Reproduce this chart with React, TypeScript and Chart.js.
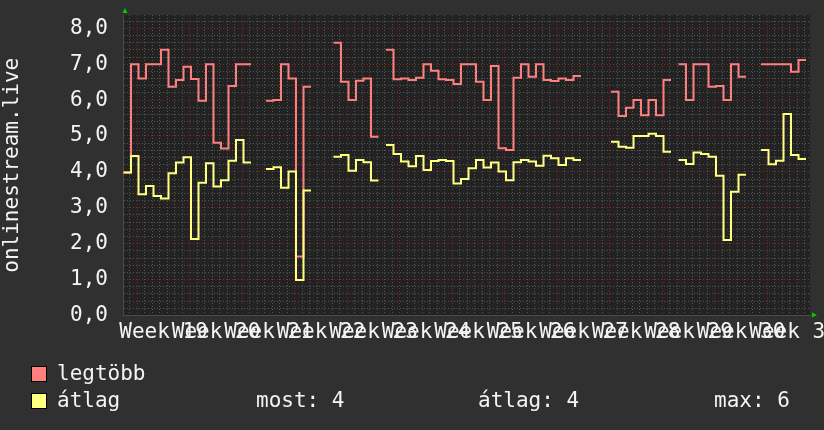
import React, { useEffect, useRef } from 'react';
import { Chart, registerables } from 'chart.js';

Chart.register(...registerables);

// ---- data -------------------------------------------------------------
const weekNumbers = [19, 20, 21, 22, 23, 24, 25, 26, 27, 28, 29, 30, 31];
// first daily sample starts this many days after the start of Week 19
const firstSampleDay = -1.84;
// daily maximum ("legtöbb")
const maxSeries: (number | null)[] = [
  3.98, 7.0, 6.6, 7.0, 7.0, 7.4, 6.37, 6.56, 6.93, 6.59, 5.98, 7.0, 4.81, 4.65, 6.39, 7.0, 7.0,
  null, null,
  5.98, 6.0, 7.0, 6.6, 1.64, 6.37,
  null, null, null,
  7.6, 6.51, 6.0, 6.54, 6.6, 4.98,
  null,
  7.4, 6.58, 6.6, 6.56, 6.62, 7.0, 6.82, 6.58, 6.56, 6.45, 7.0, 7.0, 6.51, 6.0, 6.95, 4.66, 4.61,
  6.62, 7.0, 6.65, 7.0, 6.56, 6.53, 6.6, 6.56, 6.67,
  null, null, null, null,
  6.23, 5.56, 5.79, 6.0, 5.58, 6.0, 5.58, 6.56,
  null,
  7.0, 6.0, 7.0, 7.0, 6.37, 6.39, 6.0, 7.0, 6.65,
  null, null,
  7.0, 7.0, 7.0, 7.0, 6.79, 7.12,
];
// daily average ("átlag")
const avgSeries: (number | null)[] = [
  3.98, 4.44, 3.38, 3.61, 3.33, 3.26, 3.96, 4.26, 4.41, 2.13, 3.7, 4.24, 3.59, 3.77, 4.31, 4.89, 4.26,
  null, null,
  4.08, 4.13, 3.56, 4.01, 0.99, 3.48,
  null, null, null,
  4.42, 4.47, 4.03, 4.33, 4.27, 3.76,
  null,
  4.75, 4.5, 4.29, 4.16, 4.44, 4.05, 4.3, 4.33, 4.3, 3.68, 3.8, 4.1, 4.33, 4.12, 4.26, 4.01, 3.77,
  4.27, 4.33, 4.29, 4.17, 4.45, 4.38, 4.19, 4.38, 4.33,
  null, null, null, null,
  4.84, 4.7, 4.67, 5.0, 5.0, 5.06, 5.0, 4.56,
  null,
  4.33, 4.22, 4.54, 4.5, 4.42, 3.89, 2.1, 3.45, 3.92,
  null, null,
  4.61, 4.21, 4.31, 5.61, 4.47, 4.36,
];
const yTickLabels = ['0,0', '1,0', '2,0', '3,0', '4,0', '5,0', '6,0', '7,0', '8,0'];
const yAxisTitle = 'onlinestream.live';
const seriesNames = ['legtöbb', 'átlag'];
const summaryLabels = ['most:', 'átlag:', 'max:'];
const summaryValues = ['4', '4', '6'];

const X_MIN = -1.907;
const X_MAX = 89.69;
const Y_MAX = 8.37;

// ---- styles -----------------------------------------------------------
const FONT = "'DejaVu Sans Mono', monospace";
const TEXT = '#f4f4f4';
const RED = '#ff7f7f';
const YELLOW = '#ffff80';
const MINOR = 'rgba(95,95,95,0.85)';
const MAJOR = 'rgba(135,40,40,0.9)';

function toStepPoints(values: (number | null)[]) {
  const pts: { x: number; y: number | null }[] = [];
  values.forEach((v, i) => {
    const start = firstSampleDay + i;
    if (v === null) {
      pts.push({ x: start + 0.5, y: null });
    } else {
      pts.push({ x: start, y: v }, { x: start + 1, y: v });
    }
  });
  return pts;
}

const near = (a: number, b: number) => Math.abs(a - b) < 1e-6;

const decorPlugin = {
  id: 'decor',
  beforeDraw(chart: any) {
    const { ctx, chartArea: a } = chart;
    ctx.save();
    ctx.fillStyle = '#222222';
    ctx.fillRect(a.left, a.top, a.right - a.left, a.bottom - a.top);
    ctx.restore();
  },
  afterDraw(chart: any) {
    const { ctx, chartArea: a } = chart;
    ctx.save();
    ctx.fillStyle = '#00cc00';
    ctx.beginPath();
    ctx.moveTo(a.left - 0.5, a.top - 2);
    ctx.lineTo(a.left + 4.5, a.top - 2);
    ctx.lineTo(a.left + 2, a.top - 7);
    ctx.closePath();
    ctx.fill();
    ctx.beginPath();
    ctx.moveTo(a.right + 2, a.bottom - 3);
    ctx.lineTo(a.right + 2, a.bottom + 2);
    ctx.lineTo(a.right + 7, a.bottom - 0.5);
    ctx.closePath();
    ctx.fill();
    ctx.restore();
  },
};

export default function App() {
  const ref = useRef<HTMLCanvasElement | null>(null);

  useEffect(() => {
    if (!ref.current) return;
    const chart = new Chart(ref.current, {
      type: 'line',
      data: {
        datasets: [
          {
            label: seriesNames[0],
            data: toStepPoints(maxSeries) as any,
            borderColor: RED,
            borderWidth: 2,
            pointRadius: 0,
            spanGaps: false,
            order: 2,
          },
          {
            label: seriesNames[1],
            data: toStepPoints(avgSeries) as any,
            borderColor: YELLOW,
            borderWidth: 2,
            pointRadius: 0,
            spanGaps: false,
            order: 1,
          },
        ],
      },
      options: {
        animation: false,
        responsive: false,
        maintainAspectRatio: false,
        layout: { padding: { left: 0, top: 15, right: 14, bottom: 84.5 } },
        plugins: { legend: { display: false }, tooltip: { enabled: false } },
        scales: {
          x: {
            type: 'linear',
            min: X_MIN,
            max: X_MAX,
            afterBuildTicks: (scale: any) => {
              const t: { value: number }[] = [];
              for (let d = Math.ceil(X_MIN); d <= Math.floor(X_MAX); d++) t.push({ value: d });
              weekNumbers.forEach((_, w) => t.push({ value: 3.5 + 7 * w }));
              t.sort((p, q) => p.value - q.value);
              scale.ticks = t;
            },
            afterFit: (scale: any) => {
              scale.height = 30;
              scale.paddingLeft = 0;
              scale.paddingRight = 0;
            },
            ticks: {
              autoSkip: false,
              maxRotation: 0,
              minRotation: 0,
              padding: 4,
              color: TEXT,
              font: { family: FONT, size: 21 },
              callback: (value: any) => {
                const w = weekNumbers.findIndex((_, i) => near(value, 3.5 + 7 * i));
                return w >= 0 ? `Week ${weekNumbers[w]}` : '';
              },
            },
            grid: {
              drawTicks: false,
              lineWidth: 1,
              color: (ctx: any) => {
                const v = ctx.tick ? ctx.tick.value : 0;
                if (!near(v, Math.round(v))) return 'rgba(0,0,0,0)';
                return Math.round(v) % 7 === 0 ? MAJOR : MINOR;
              },
            },
            border: { display: true, color: '#4a4a4a', dash: [1, 2] },
          },
          y: {
            type: 'linear',
            min: 0,
            max: Y_MAX,
            afterBuildTicks: (scale: any) => {
              const t: { value: number }[] = [];
              for (let i = 0; i / 5 <= Y_MAX; i++) t.push({ value: i / 5 });
              scale.ticks = t;
            },
            afterFit: (scale: any) => {
              scale.width = 123;
              scale.paddingTop = 0;
              scale.paddingBottom = 0;
            },
            ticks: {
              autoSkip: false,
              padding: 15,
              color: TEXT,
              font: { family: FONT, size: 21 },
              callback: (value: any) => {
                const r = Math.round(value);
                return near(value, r) ? yTickLabels[r] ?? '' : '';
              },
            },
            grid: {
              drawTicks: false,
              lineWidth: 1,
              color: (ctx: any) => {
                const v = ctx.tick ? ctx.tick.value : 0;
                return near(v, Math.round(v)) ? MAJOR : MINOR;
              },
            },
            border: { display: true, color: '#4a4a4a', dash: [1, 2] },
            title: {
              display: true,
              text: yAxisTitle,
              color: TEXT,
              font: { family: FONT, size: 21, lineHeight: 1.15 },
              padding: { top: 0, bottom: 0 },
            },
          },
        },
      },
      plugins: [decorPlugin],
    });
    return () => chart.destroy();
  }, []);

  const textStyle: React.CSSProperties = {
    position: 'absolute',
    fontFamily: FONT,
    fontSize: 21,
    lineHeight: '21px',
    color: TEXT,
    whiteSpace: 'pre',
  };
  const box = (bg: string, top: number): React.CSSProperties => ({
    position: 'absolute',
    left: 31,
    top,
    width: 16,
    height: 16,
    boxSizing: 'border-box',
    border: '1px solid #000',
    background: bg,
  });
  const summaryLeft = [256, 478, 714];

  return (
    <div
      style={{
        position: 'fixed',
        left: 0,
        top: 0,
        width: 824,
        height: 430,
        background: '#303030',
        overflow: 'hidden',
      }}
    >
      <canvas ref={ref} width={824} height={430} style={{ position: 'absolute', left: 0, top: 0 }} />
      <div style={box(RED, 366)} />
      <div style={{ ...textStyle, left: 57, top: 363 }}>{seriesNames[0]}</div>
      <div style={box(YELLOW, 393)} />
      <div style={{ ...textStyle, left: 57, top: 390 }}>{seriesNames[1]}</div>
      {summaryLabels.map((lab, i) => (
        <div key={lab} style={{ ...textStyle, left: summaryLeft[i], top: 390 }}>
          {`${lab} ${summaryValues[i]}`}
        </div>
      ))}
    </div>
  );
}
